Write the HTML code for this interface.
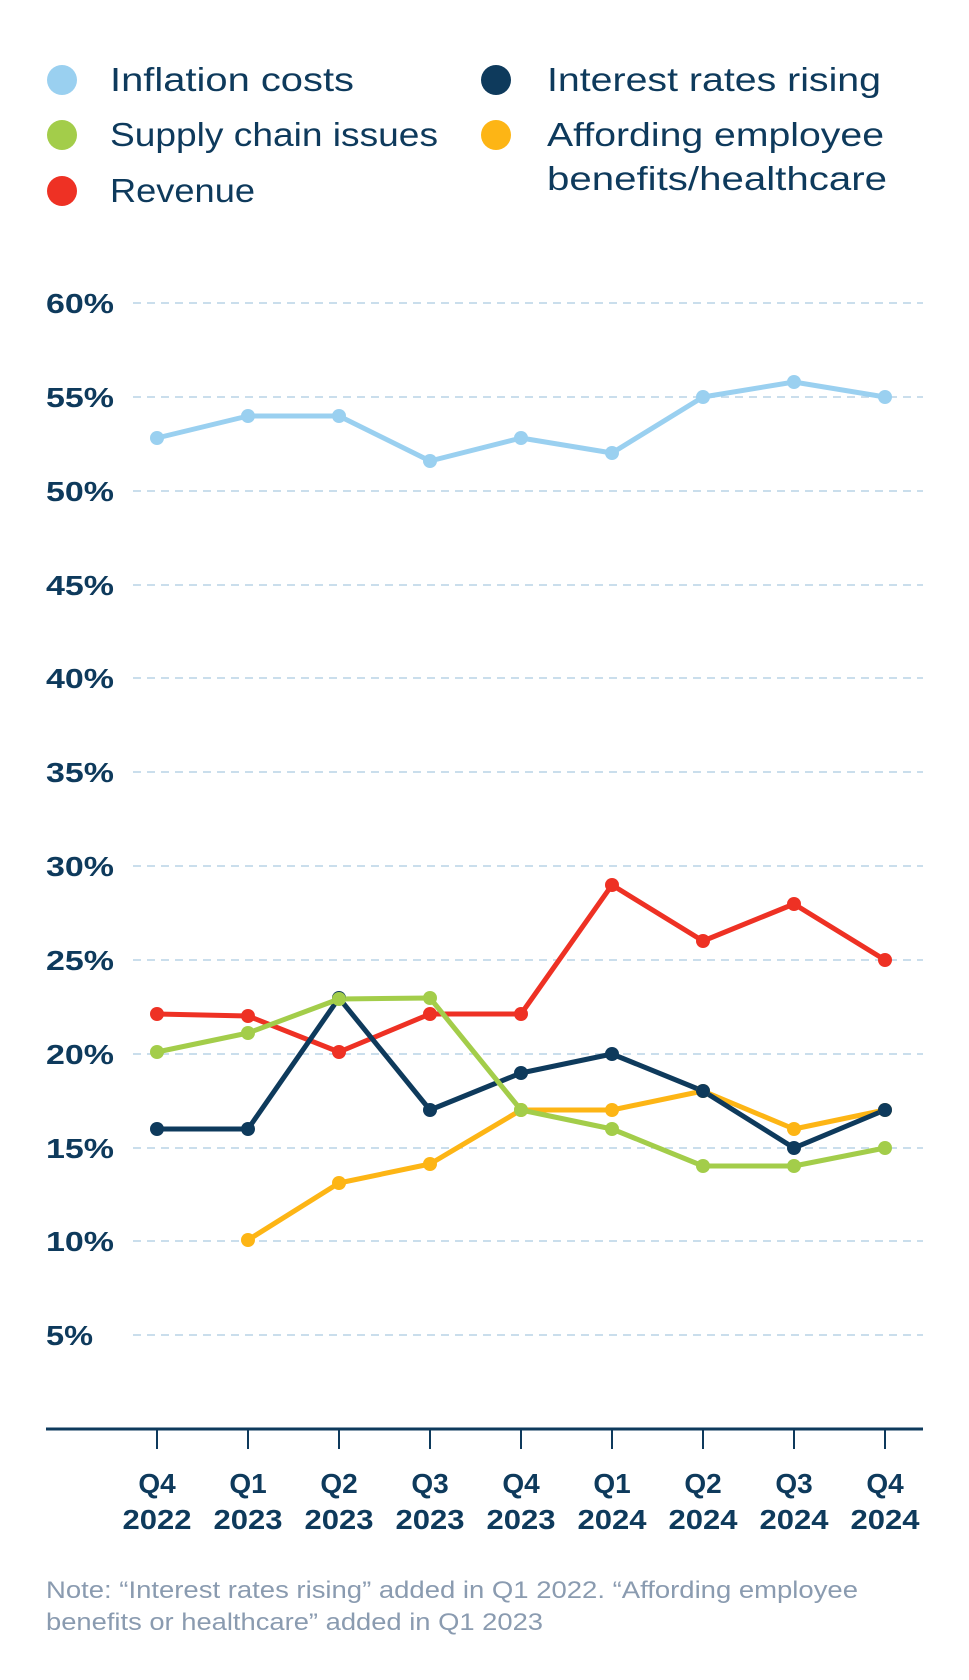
<!DOCTYPE html>
<html><head><meta charset="utf-8"><style>
html,body{margin:0;padding:0;background:#fff;}
svg{display:block;font-family:"Liberation Sans",sans-serif;}
</style></head><body>
<svg width="969" height="1680" viewBox="0 0 969 1680" xmlns="http://www.w3.org/2000/svg">
<g font-size="33" fill="#0e3a5c" lengthAdjust="spacingAndGlyphs">
<circle cx="62" cy="80" r="15" fill="#9ad0f0"/><text x="110" y="91" textLength="244" lengthAdjust="spacingAndGlyphs">Inflation costs</text>
<circle cx="62" cy="135" r="15" fill="#a3cd4a"/><text x="110" y="146" textLength="328" lengthAdjust="spacingAndGlyphs">Supply chain issues</text>
<circle cx="62" cy="191" r="15" fill="#ee3124"/><text x="110" y="202" textLength="145" lengthAdjust="spacingAndGlyphs">Revenue</text>
<circle cx="496" cy="80" r="15" fill="#0e3a5c"/><text x="547" y="91" textLength="334" lengthAdjust="spacingAndGlyphs">Interest rates rising</text>
<circle cx="496" cy="135" r="15" fill="#fdb515"/><text x="547" y="146" textLength="337" lengthAdjust="spacingAndGlyphs">Affording employee</text>
<text x="547" y="190" textLength="340" lengthAdjust="spacingAndGlyphs">benefits/healthcare</text>
</g>
<g stroke="#b8d4e6" stroke-width="1.5" stroke-dasharray="8,6">
<line x1="133" x2="923" y1="303" y2="303"/>
<line x1="133" x2="923" y1="397" y2="397"/>
<line x1="133" x2="923" y1="491" y2="491"/>
<line x1="133" x2="923" y1="585" y2="585"/>
<line x1="133" x2="923" y1="678" y2="678"/>
<line x1="133" x2="923" y1="772" y2="772"/>
<line x1="133" x2="923" y1="866" y2="866"/>
<line x1="133" x2="923" y1="960" y2="960"/>
<line x1="133" x2="923" y1="1054" y2="1054"/>
<line x1="133" x2="923" y1="1148" y2="1148"/>
<line x1="133" x2="923" y1="1241" y2="1241"/>
<line x1="133" x2="923" y1="1335" y2="1335"/>
</g>
<g font-size="28" font-weight="bold" fill="#0e3a5c">
<text x="46" y="313" textLength="68" lengthAdjust="spacingAndGlyphs">60%</text><text x="46" y="407" textLength="68" lengthAdjust="spacingAndGlyphs">55%</text><text x="46" y="501" textLength="68" lengthAdjust="spacingAndGlyphs">50%</text>
<text x="46" y="595" textLength="68" lengthAdjust="spacingAndGlyphs">45%</text><text x="46" y="688" textLength="68" lengthAdjust="spacingAndGlyphs">40%</text><text x="46" y="782" textLength="68" lengthAdjust="spacingAndGlyphs">35%</text>
<text x="46" y="876" textLength="68" lengthAdjust="spacingAndGlyphs">30%</text><text x="46" y="970" textLength="68" lengthAdjust="spacingAndGlyphs">25%</text><text x="46" y="1064" textLength="68" lengthAdjust="spacingAndGlyphs">20%</text>
<text x="46" y="1158" textLength="68" lengthAdjust="spacingAndGlyphs">15%</text><text x="46" y="1251" textLength="68" lengthAdjust="spacingAndGlyphs">10%</text><text x="46" y="1345" textLength="47" lengthAdjust="spacingAndGlyphs">5%</text>
</g>
<line x1="46" x2="923" y1="1429" y2="1429" stroke="#0e3a5c" stroke-width="3"/>
<g stroke="#0e3a5c" stroke-width="2">
<line x1="157" x2="157" y1="1429" y2="1449"/><line x1="248" x2="248" y1="1429" y2="1449"/>
<line x1="339" x2="339" y1="1429" y2="1449"/><line x1="430" x2="430" y1="1429" y2="1449"/>
<line x1="521" x2="521" y1="1429" y2="1449"/><line x1="612" x2="612" y1="1429" y2="1449"/>
<line x1="703" x2="703" y1="1429" y2="1449"/><line x1="794" x2="794" y1="1429" y2="1449"/>
<line x1="885" x2="885" y1="1429" y2="1449"/>
</g>
<g font-size="28" font-weight="bold" fill="#0e3a5c" text-anchor="middle">
<text x="157" y="1493">Q4</text><text x="157" y="1529" textLength="69" lengthAdjust="spacingAndGlyphs">2022</text>
<text x="248" y="1493">Q1</text><text x="248" y="1529" textLength="69" lengthAdjust="spacingAndGlyphs">2023</text>
<text x="339" y="1493">Q2</text><text x="339" y="1529" textLength="69" lengthAdjust="spacingAndGlyphs">2023</text>
<text x="430" y="1493">Q3</text><text x="430" y="1529" textLength="69" lengthAdjust="spacingAndGlyphs">2023</text>
<text x="521" y="1493">Q4</text><text x="521" y="1529" textLength="69" lengthAdjust="spacingAndGlyphs">2023</text>
<text x="612" y="1493">Q1</text><text x="612" y="1529" textLength="69" lengthAdjust="spacingAndGlyphs">2024</text>
<text x="703" y="1493">Q2</text><text x="703" y="1529" textLength="69" lengthAdjust="spacingAndGlyphs">2024</text>
<text x="794" y="1493">Q3</text><text x="794" y="1529" textLength="69" lengthAdjust="spacingAndGlyphs">2024</text>
<text x="885" y="1493">Q4</text><text x="885" y="1529" textLength="69" lengthAdjust="spacingAndGlyphs">2024</text>
</g>
<g font-size="24" fill="#8a9bb0">
<text x="46" y="1598" textLength="812" lengthAdjust="spacingAndGlyphs">Note: “Interest rates rising” added in Q1 2022. “Affording employee</text>
<text x="46" y="1630" textLength="497" lengthAdjust="spacingAndGlyphs">benefits or healthcare” added in Q1 2023</text>
</g>
<g fill="none" stroke-width="5" stroke-linejoin="round">
<polyline stroke="#9ad0f0" points="157,438 248,416 339,416 430,461 521,438 612,453 703,397 794,382 885,397"/>
<polyline stroke="#fdb515" points="248,1240 339,1183 430,1164 521,1110 612,1110 703,1091 794,1129 885,1110"/>
<polyline stroke="#ee3124" points="157,1014 248,1016 339,1052 430,1014 521,1014 612,885 703,941 794,904 885,960"/>
<polyline stroke="#0e3a5c" points="157,1129 248,1129 339,998 430,1110 521,1073 612,1054 703,1091 794,1148 885,1110"/>
<polyline stroke="#a3cd4a" points="157,1052 248,1033 339,999 430,998 521,1110 612,1129 703,1166 794,1166 885,1148"/>
</g>
<g fill="#9ad0f0"><circle cx="157" cy="438" r="7"/><circle cx="248" cy="416" r="7"/><circle cx="339" cy="416" r="7"/><circle cx="430" cy="461" r="7"/><circle cx="521" cy="438" r="7"/><circle cx="612" cy="453" r="7"/><circle cx="703" cy="397" r="7"/><circle cx="794" cy="382" r="7"/><circle cx="885" cy="397" r="7"/></g>
<g fill="#fdb515"><circle cx="248" cy="1240" r="7"/><circle cx="339" cy="1183" r="7"/><circle cx="430" cy="1164" r="7"/><circle cx="521" cy="1110" r="7"/><circle cx="612" cy="1110" r="7"/><circle cx="703" cy="1091" r="7"/><circle cx="794" cy="1129" r="7"/><circle cx="885" cy="1110" r="7"/></g>
<g fill="#ee3124"><circle cx="157" cy="1014" r="7"/><circle cx="248" cy="1016" r="7"/><circle cx="339" cy="1052" r="7"/><circle cx="430" cy="1014" r="7"/><circle cx="521" cy="1014" r="7"/><circle cx="612" cy="885" r="7"/><circle cx="703" cy="941" r="7"/><circle cx="794" cy="904" r="7"/><circle cx="885" cy="960" r="7"/></g>
<g fill="#0e3a5c"><circle cx="157" cy="1129" r="7"/><circle cx="248" cy="1129" r="7"/><circle cx="339" cy="998" r="7"/><circle cx="430" cy="1110" r="7"/><circle cx="521" cy="1073" r="7"/><circle cx="612" cy="1054" r="7"/><circle cx="703" cy="1091" r="7"/><circle cx="794" cy="1148" r="7"/><circle cx="885" cy="1110" r="7"/></g>
<g fill="#a3cd4a"><circle cx="157" cy="1052" r="7"/><circle cx="248" cy="1033" r="7"/><circle cx="339" cy="999" r="7"/><circle cx="430" cy="998" r="7"/><circle cx="521" cy="1110" r="7"/><circle cx="612" cy="1129" r="7"/><circle cx="703" cy="1166" r="7"/><circle cx="794" cy="1166" r="7"/><circle cx="885" cy="1148" r="7"/></g>
</svg>
</body></html>
